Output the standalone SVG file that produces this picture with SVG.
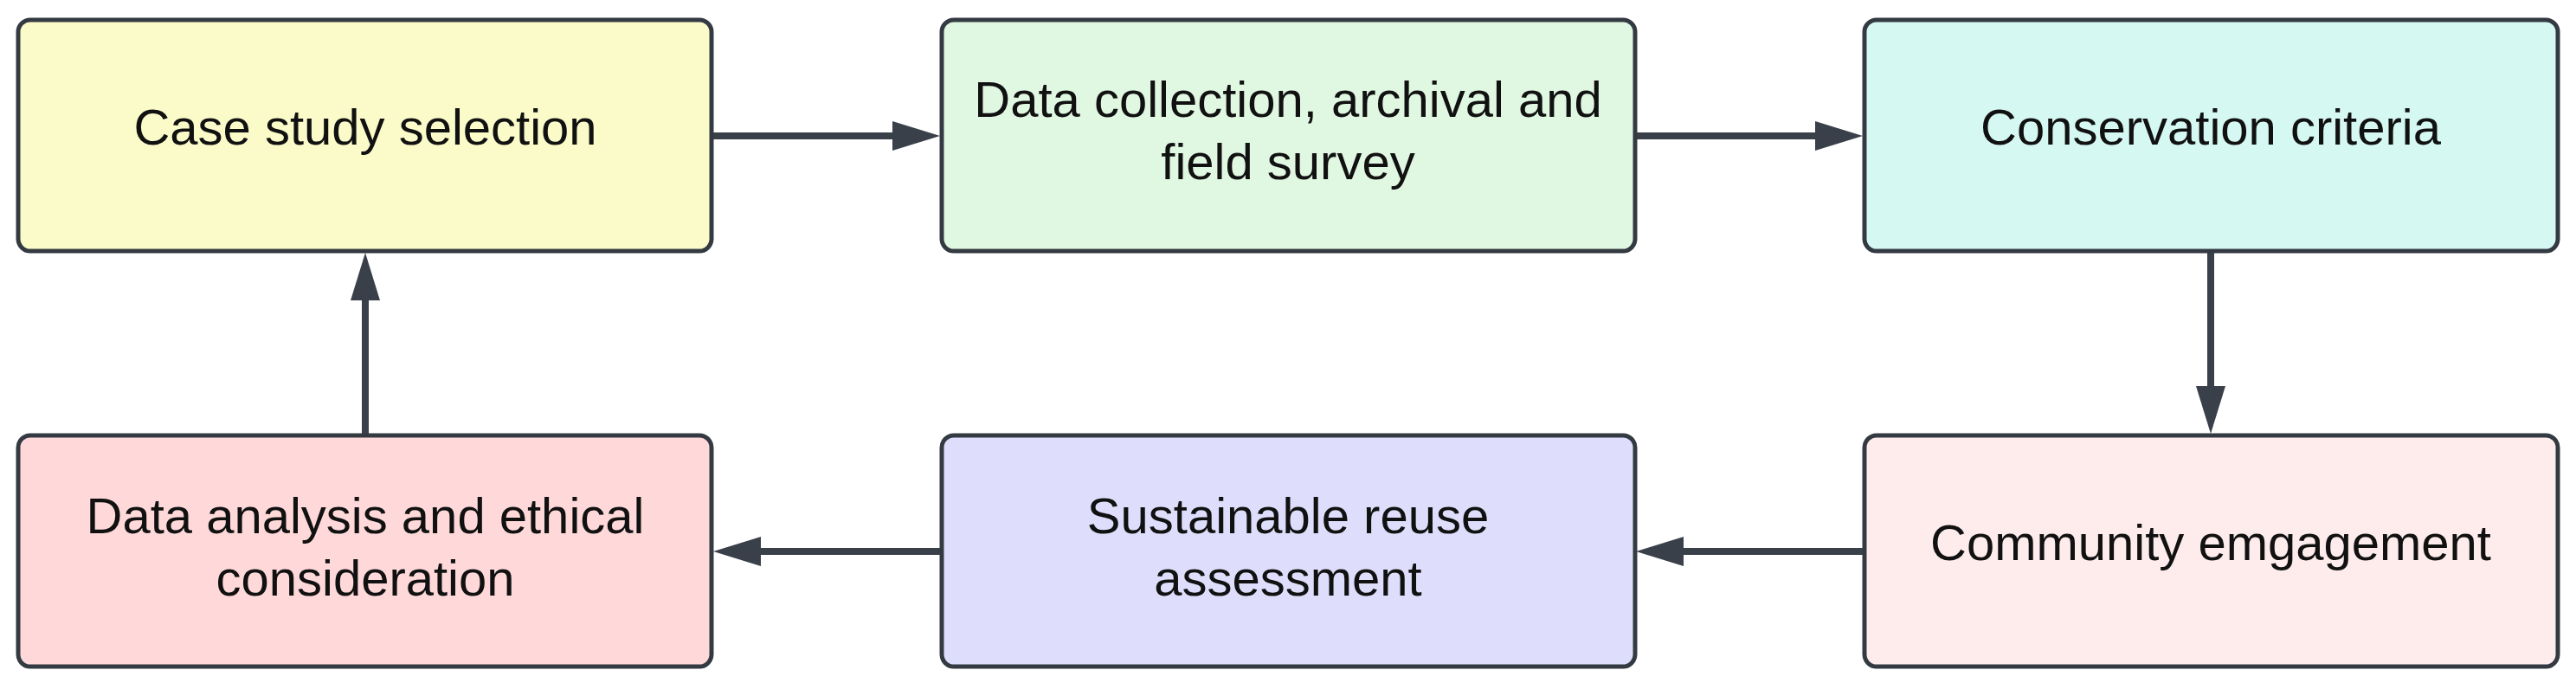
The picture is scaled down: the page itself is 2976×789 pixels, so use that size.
<svg xmlns="http://www.w3.org/2000/svg" width="2976" height="789" viewBox="0 0 2976 789">
<style>
.box{stroke:#343a42;stroke-width:5}
.lbl{font-family:"Liberation Sans",Arial,sans-serif;font-size:58px;fill:#111;text-anchor:middle}
.con{stroke:#3a404a;stroke-width:8;fill:none}
</style>
<defs>
<marker id="ah" markerUnits="userSpaceOnUse" markerWidth="56" markerHeight="36" refX="1" refY="17" orient="auto" viewBox="0 0 56 34">
<path d="M0,0 L55,17 L0,34 z" fill="#3a404a"/>
</marker>
</defs>
<rect width="2976" height="789" fill="#ffffff"/>
<g id="connectors">
<line class="con" x1="822" y1="157" x2="1032" y2="157" marker-end="url(#ah)"/>
<line class="con" x1="1889" y1="157" x2="2098" y2="157" marker-end="url(#ah)"/>
<line class="con" x1="2554" y1="290" x2="2554" y2="447" marker-end="url(#ah)"/>
<line class="con" x1="2153" y1="637" x2="1944" y2="637" marker-end="url(#ah)"/>
<line class="con" x1="1087" y1="637" x2="878" y2="637" marker-end="url(#ah)"/>
<line class="con" x1="422" y1="503" x2="422" y2="346" marker-end="url(#ah)"/>
</g>
<g id="node1">
<rect class="box" x="21" y="23" width="801" height="267" rx="14" fill="#fbfbca"/>
<text class="lbl" x="422" y="167">Case study selection</text>
</g>
<g id="node2">
<rect class="box" x="1088" y="23" width="801" height="267" rx="14" fill="#e0f8e1"/>
<text class="lbl" x="1488" y="135">Data collection, archival and</text>
<text class="lbl" x="1488" y="207">field survey</text>
</g>
<g id="node3">
<rect class="box" x="2154" y="23" width="801" height="267" rx="14" fill="#d5f8f2"/>
<text class="lbl" x="2554" y="167">Conservation criteria</text>
</g>
<g id="node4">
<rect class="box" x="2154" y="503" width="801" height="267" rx="14" fill="#feecec"/>
<text class="lbl" x="2554" y="647">Community emgagement</text>
</g>
<g id="node5">
<rect class="box" x="1088" y="503" width="801" height="267" rx="14" fill="#dedefc"/>
<text class="lbl" x="1488" y="616">Sustainable reuse</text>
<text class="lbl" x="1488" y="688">assessment</text>
</g>
<g id="node6">
<rect class="box" x="21" y="503" width="801" height="267" rx="14" fill="#ffd9da"/>
<text class="lbl" x="422" y="616">Data analysis and ethical</text>
<text class="lbl" x="422" y="688">consideration</text>
</g>
</svg>
